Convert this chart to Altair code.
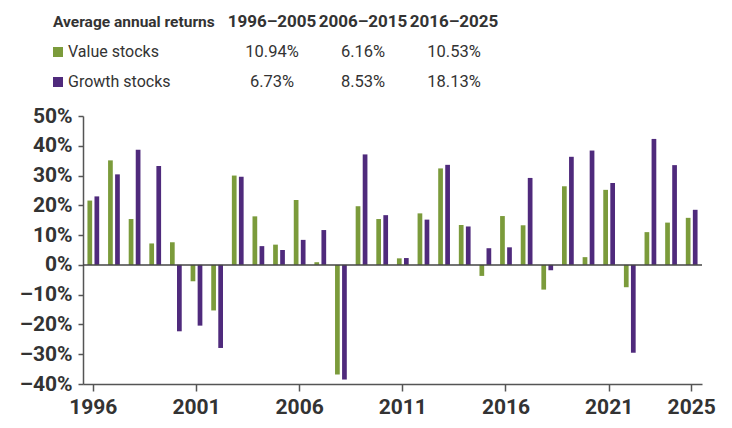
import altair as alt
import pandas as pd

# ---------------- data ----------------
years = list(range(1996, 2026))
value_returns = [21.6, 35.1, 15.4, 7.2, 7.6, -5.5, -15.3, 30.0, 16.3, 6.8,
                 21.8, 0.9, -36.8, 19.7, 15.4, 2.2, 17.3, 32.4, 13.4, -3.7,
                 16.4, 13.3, -8.3, 26.4, 2.6, 25.2, -7.5, 11.0, 14.2, 15.8]
growth_returns = [23.0, 30.4, 38.7, 33.2, -22.3, -20.4, -27.9, 29.6, 6.3, 5.0,
                  8.4, 11.7, -38.5, 37.1, 16.7, 2.3, 15.2, 33.6, 12.9, 5.6,
                  5.9, 29.2, -1.8, 36.3, 38.4, 27.5, -29.5, 42.3, 33.5, 18.5]
series_names = ["Value stocks", "Growth stocks"]
periods = ["1996–2005", "2006–2015", "2016–2025"]
value_avg = ["10.94%", "6.16%", "10.53%"]
growth_avg = ["6.73%", "8.53%", "18.13%"]
header_title = "Average annual returns"
x_tick_years = [1996, 2001, 2006, 2011, 2016, 2021, 2025]
y_ticks = [-40, -30, -20, -10, 0, 10, 20, 30, 40, 50]

GREEN = "#7b9b3b"
PURPLE = "#4f2a7c"
TEXT = "#333333"
AXIS = "#555555"
FONT = "Roboto"

df = pd.DataFrame({
    "year": years * 2,
    "series": [series_names[0]] * len(years) + [series_names[1]] * len(years),
    "ret": value_returns + growth_returns,
})

y_axis = alt.Axis(values=y_ticks, grid=False, title=None,
                  tickSize=5, tickColor=AXIS, domainColor=AXIS,
                  domainWidth=1.5, tickWidth=1.5,
                  labelOverlap=False, labelFlush=False,
                  labelExpr="datum.value < 0 ? '–' + abs(datum.value) + '%' : datum.value + '%'",
                  labelFont=FONT, labelFontWeight="bold",
                  labelFontSize=21, labelColor=TEXT, labelPadding=6)
y_scale = alt.Scale(domain=[-40, 50], nice=False, zero=False)

bars = alt.Chart(df).mark_bar().encode(
    x=alt.X("year:O",
            scale=alt.Scale(paddingInner=0.43, paddingOuter=0.215),
            axis=alt.Axis(values=x_tick_years, labelAngle=0, title=None,
                          tickSize=7, tickColor=AXIS, domainColor=AXIS,
                          domainWidth=1.5, tickWidth=1.5, labelOverlap=False,
                          labelFont=FONT, labelFontWeight="bold",
                          labelFontSize=21, labelColor=TEXT, labelPadding=5)),
    xOffset=alt.XOffset("series:N", sort=series_names,
                        scale=alt.Scale(domain=series_names, paddingInner=0.33)),
    y=alt.Y("ret:Q", scale=y_scale, axis=y_axis),
    color=alt.Color("series:N",
                    scale=alt.Scale(domain=series_names, range=[GREEN, PURPLE]),
                    legend=None),
)

zero_line = alt.Chart(pd.DataFrame({"ret": [0]})).mark_rule(
    color="#444444", strokeWidth=1.5).encode(
    y=alt.Y("ret:Q", scale=y_scale, axis=y_axis))


def txt(s, x, y, size, bold=False, align="left"):
    return alt.Chart(pd.DataFrame({"t": [s]})).mark_text(
        align=align, baseline="alphabetic", fontSize=size,
        fontWeight="bold" if bold else "normal", font=FONT, color=TEXT,
    ).encode(text="t:N", x=alt.value(x), y=alt.value(y))


def square(color, x, y):
    return alt.Chart(pd.DataFrame({"s": [0]})).mark_point(
        shape="square", filled=True, size=100, color=color, opacity=1
    ).encode(x=alt.value(x), y=alt.value(y))


row_y = [-89, -59, -29]
col_x = [189, 280, 371]

layers = [bars, zero_line, txt(header_title, -30, row_y[0], 15.5, bold=True)]
for i, p in enumerate(periods):
    layers.append(txt(p, col_x[i], row_y[0], 17, bold=True, align="center"))
layers.append(square(GREEN, -25, -64))
layers.append(square(PURPLE, -25, -34))
layers.append(txt(series_names[0], -15, row_y[1], 16))
layers.append(txt(series_names[1], -15, row_y[2], 16))
for i in range(3):
    layers.append(txt(value_avg[i], col_x[i], row_y[1], 16.5, align="center"))
    layers.append(txt(growth_avg[i], col_x[i], row_y[2], 16.5, align="center"))

chart = alt.layer(*layers).properties(
    width=619, height=268,
    autosize=alt.AutoSizeParams(type="none"),
    padding={"left": 75, "top": 108, "right": 22, "bottom": 36},
    background="white",
).configure_view(stroke=None)

chart.save("out.html", embed_options={"renderer": "svg", "actions": False})
